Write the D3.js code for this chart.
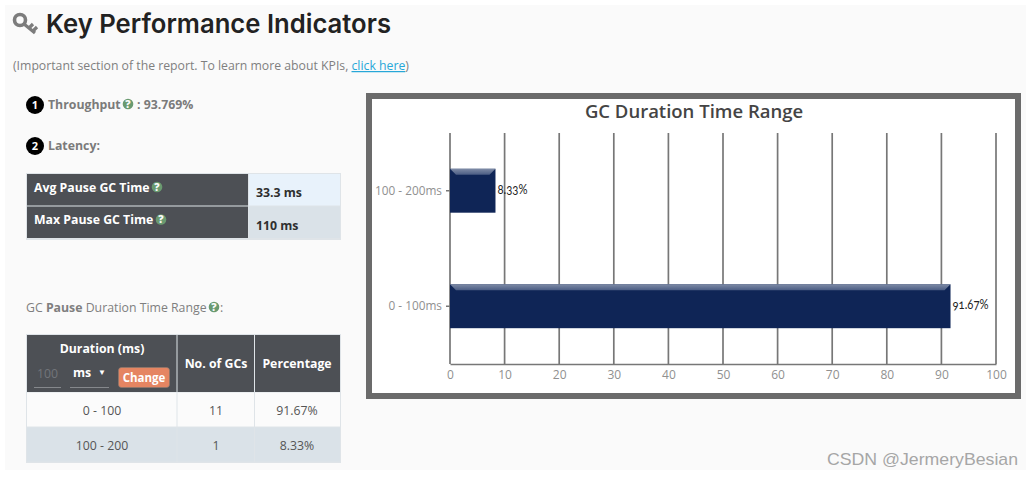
<!DOCTYPE html>
<html>
<head>
<meta charset="utf-8">
<script src="https://cdn.jsdelivr.net/npm/d3@7"></script>
<style>
  html, body { margin: 0; padding: 0; background: #fff; overflow: hidden; }
  text { font-family: "Open Sans", sans-serif; }
</style>
</head>
<body>
<script>
var categories = ['100 - 200ms', '0 - 100ms'];
var percentValues = [8.33, 91.67];
var valueLabels = ['8.33%', '91.67%'];
var xTicks = [0, 10, 20, 30, 40, 50, 60, 70, 80, 90, 100];

var latencyNames = ['Avg Pause GC Time', 'Max Pause GC Time'];
var latencyValues = ['33.3 ms', '110 ms'];

var rangeNames = ['0 - 100', '100 - 200'];
var rangeCounts = ['11', '1'];
var rangePercents = ['91.67%', '8.33%'];

var svg = d3.select('body').append('svg')
  .attr('width', 1032)
  .attr('height', 478);

svg.append('rect').attr('x', 5).attr('y', 5).attr('width', 1021).attr('height', 465).attr('fill', '#fafafa');

function addText(x, y, str, size, color, weight, anchor) {
  return svg.append('text')
    .attr('x', x)
    .attr('y', y)
    .attr('font-size', size)
    .attr('fill', color)
    .attr('font-weight', weight || 400)
    .attr('text-anchor', anchor || 'start')
    .text(str);
}

function addRect(x, y, w, h, fill) {
  return svg.append('rect').attr('x', x).attr('y', y).attr('width', w).attr('height', h).attr('fill', fill);
}

// small green "?" help marker
function helpIcon(cx, cy) {
  svg.append('circle').attr('cx', cx).attr('cy', cy).attr('r', 5.3).attr('fill', '#6a9a70');
  addText(cx, cy + 3.8, '?', 10.5, '#fafafa', 800, 'middle');
}

function badge(cx, cy, str) {
  svg.append('circle').attr('cx', cx).attr('cy', cy).attr('r', 9).attr('fill', '#000');
  addText(cx, cy + 4, str, 11, '#fff', 700, 'middle');
}

// header
var key = svg.append('g').attr('stroke', '#7c7c7c').attr('fill', 'none');
key.append('circle').attr('cx', 20).attr('cy', 20).attr('r', 5.5).attr('stroke-width', 3.6);
key.append('path').attr('d', 'M24 24 L35 33 M29 28 L33 24 M33 31 L37 27').attr('stroke-width', 3.2);

addText(46, 33, 'Key Performance Indicators', 26, '#222', 600, 'start')
  .style('font-family', 'Inter')
  .attr('textLength', 345)
  .attr('lengthAdjust', 'spacingAndGlyphs');

var intro = addText(13, 70, '(Important section of the report. To learn more about KPIs, ', 12.25, '#7f7f7f');
intro.append('tspan').attr('fill', '#27a7d8').attr('text-decoration', 'underline').text('click here');
intro.append('tspan').text(')');

// kpi lines
badge(35, 105, '1');
addText(48, 109, 'Throughput', 12.3, '#7b7b7b', 700);
helpIcon(128, 104);
addText(137, 109, ': 93.769%', 12.3, '#7b7b7b', 700);
badge(35, 146, '2');
addText(48, 150, 'Latency:', 12.3, '#7b7b7b', 700);

// latency table
addRect(26, 173, 315, 67, '#dfe4e8');
latencyNames.forEach(function(name, i) {
  var y = 174 + i * 32.5;
  addRect(27, y, 221, 31.5, '#4d5055');
  addRect(249, y, 91, 31.5, i === 0 ? '#e8f2fb' : '#dae2e8');
  addText(34, y + 17.5, name, 12.3, '#fff', 700);
  helpIcon(i === 0 ? 157 : 161, y + 13);
  addText(256, y + 23, latencyValues[i], 12.3, '#2f2f2f', 700);
});

// range table
var caption = addText(26, 312, 'GC ', 12.3, '#7f7f7f');
caption.append('tspan').attr('font-weight', 700).text('Pause');
caption.append('tspan').text(' Duration Time Range');
helpIcon(214, 307);
addText(220, 312, ':', 12.3, '#7f7f7f');

var colX = [27, 177.5, 255];
var colW = [149.5, 76.5, 85];
addRect(26, 334, 315, 129, '#dfe4e8');
colX.forEach(function(x, i) {
  addRect(x, 335, colW[i], 57, '#4d5055');
});
addText(102, 353, 'Duration (ms)', 12.3, '#fff', 700, 'middle');
addText(216, 368, 'No. of GCs', 12.3, '#fff', 700, 'middle');
addText(297, 368, 'Percentage', 12.3, '#fff', 700, 'middle');
addText(47.5, 378, '100', 12.3, '#72757a', 400, 'middle');
addRect(34, 387, 27, 1, '#85888c');
addText(82, 377, 'ms', 12.3, '#fff', 700, 'middle');
addText(102, 375, '\u25BC', 8, '#fff', 400, 'middle');
addRect(70, 387, 39, 1, '#85888c');
svg.append('rect').attr('x', 118.5).attr('y', 367.5).attr('width', 51).attr('height', 20).attr('rx', 3)
  .attr('fill', '#e58562').attr('stroke', '#8a7a72').attr('stroke-width', 0.6);
addText(144, 382, 'Change', 11.5, '#fff', 700, 'middle');

rangeNames.forEach(function(name, i) {
  var y = 392.5 + i * 35;
  var fill = i === 0 ? '#fbfbfb' : '#dae2e8';
  colX.forEach(function(x, c) { addRect(x, y, colW[c], 34, fill); });
  addText(102, y + 22, name, 12.3, '#555', 400, 'middle');
  addText(216, y + 22, rangeCounts[i], 12.3, '#555', 400, 'middle');
  addText(297, y + 22, rangePercents[i], 12.3, '#555', 400, 'middle');
});

// chart frame
svg.append('rect').attr('x', 369).attr('y', 96).attr('width', 649).attr('height', 300)
  .attr('fill', '#fff').attr('stroke', '#6b6b6b').attr('stroke-width', 6);
addText(694, 118, 'GC Duration Time Range', 18.5, '#444', 600, 'middle');

var x = d3.scaleLinear().domain([0, 100]).range([450, 996]);
var y = d3.scaleBand().domain(categories).range([133, 364]).paddingInner(0.62).paddingOuter(0.31);

var defs = svg.append('defs');
var grad = defs.append('linearGradient').attr('id', 'bevel').attr('x1', 0).attr('y1', 0).attr('x2', 0).attr('y2', 1);
grad.append('stop').attr('offset', 0).attr('stop-color', '#7e8ba6');
grad.append('stop').attr('offset', 1).attr('stop-color', '#4a5c83');

svg.append('g').selectAll('line').data(xTicks).join('line')
  .attr('x1', function(d) { return x(d); })
  .attr('x2', function(d) { return x(d); })
  .attr('y1', 133)
  .attr('y2', 364)
  .attr('stroke', '#777')
  .attr('stroke-width', 1.7);

var bars = svg.append('g').selectAll('g').data(categories).join('g');
bars.append('rect')
  .attr('x', x(0))
  .attr('y', function(d) { return y(d); })
  .attr('width', function(d, i) { return x(percentValues[i]) - x(0); })
  .attr('height', y.bandwidth())
  .attr('fill', '#0f2556');
// bevelled top edge of each bar
bars.append('path')
  .attr('fill', 'url(#bevel)')
  .attr('d', function(d, i) {
    var t = y(d), l = x(0), r = x(percentValues[i]);
    return 'M' + l + ',' + t + 'L' + r + ',' + t + 'L' + (r - 6) + ',' + (t + 6) + 'L' + (l + 6) + ',' + (t + 6) + 'Z';
  });
bars.append('text')
  .attr('x', function(d, i) { return x(percentValues[i]) + 2; })
  .attr('y', function(d) { return y(d) + y.bandwidth() / 2 + 3; })
  .attr('font-size', 13)
  .attr('fill', '#222')
  .attr('textLength', function(d, i) { return valueLabels[i].length * 6; })
  .attr('lengthAdjust', 'spacingAndGlyphs')
  .style('font-family', 'Lato')
  .style('font-variant-numeric', 'oldstyle-nums')
  .text(function(d, i) { return valueLabels[i]; });

var xAxis = svg.append('g')
  .attr('transform', 'translate(0,364)')
  .call(d3.axisBottom(x).tickValues(xTicks).tickSize(0).tickPadding(6));
xAxis.select('.domain').attr('stroke', '#777').attr('stroke-width', 1.7);
xAxis.selectAll('text').attr('font-size', 12).attr('fill', '#909090').style('font-family', 'Open Sans');

var yAxis = svg.append('g')
  .attr('transform', 'translate(450,0)')
  .call(d3.axisLeft(y).tickSize(4).tickPadding(4));
yAxis.select('.domain').remove();
yAxis.selectAll('line').attr('stroke', '#777').attr('stroke-width', 1.5);
yAxis.selectAll('text').attr('font-size', 11.8).attr('fill', '#909090').style('font-family', 'Open Sans');

// watermark
addText(827, 465, 'CSDN @JermeryBesian', 17, '#a6a6a6', 400)
  .style('font-family', 'Liberation Sans')
  .attr('textLength', 191)
  .attr('lengthAdjust', 'spacingAndGlyphs');
</script>
</body>
</html>
